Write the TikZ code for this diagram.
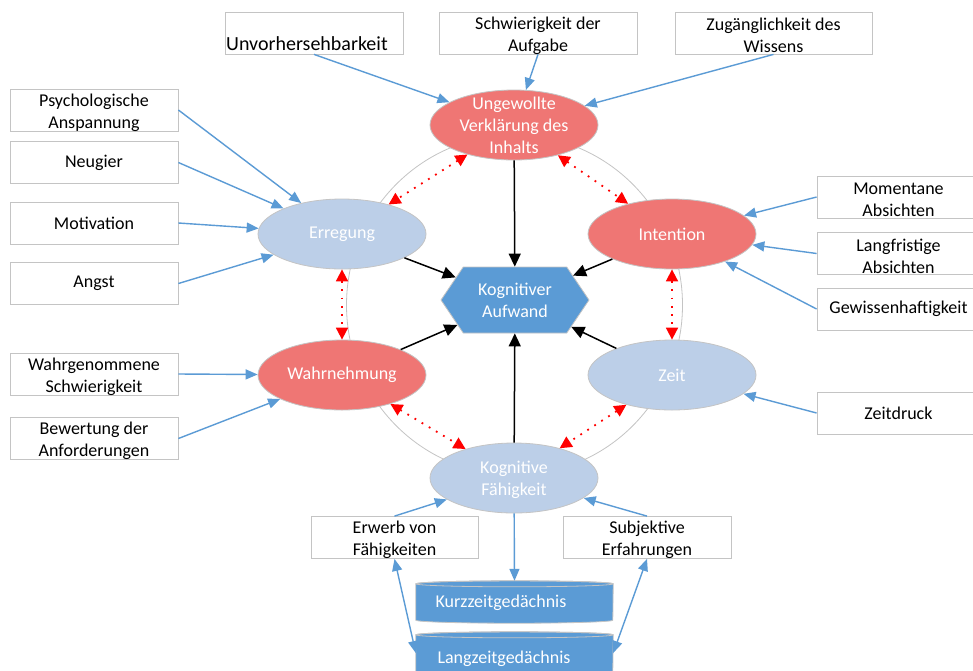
\documentclass[tikz,border=0pt]{standalone}
\usepackage{fontspec}
\setmainfont{Carlito}
\usetikzlibrary{arrows.meta,shapes.geometric,shapes.symbols}

\definecolor{salmon}{HTML}{EF7674}
\definecolor{paleblue}{HTML}{BCCFE8}
\definecolor{midblue}{HTML}{5B9BD5}
\definecolor{rimgray}{HTML}{C4C4C4}

\begin{document}
\begin{tikzpicture}[x=1pt,y=-1pt,
  every node/.style={font=\fontsize{18}{22}\selectfont},
  factor/.style={ellipse, draw=rimgray, line width=0.8pt, minimum width=168, minimum height=70, inner sep=0},
  hot/.style={factor, fill=salmon},
  cool/.style={factor, fill=paleblue},
  elltext/.style={text=white, align=center, inner sep=0},
  infobox/.style={rectangle, draw=rimgray, line width=0.8pt, fill=white, minimum height=42, inner sep=0, align=center},
  pairtext/.style={align=center, inner sep=0, yshift=-2.5pt},
  cylbox/.style={rectangle, inner sep=0, minimum width=197, minimum height=42},
  cylbody/.style={fill=midblue, draw=rimgray, line width=0.8pt},
  feed/.style={draw=midblue, line width=1.4pt, -{Triangle[length=12pt,width=10pt]}},
  link/.style={draw=midblue, line width=1.4pt, {Triangle[length=12pt,width=10pt]}-{Triangle[length=12pt,width=10pt]}},
  effect/.style={draw=black, line width=1.5pt, -{Triangle[length=13pt,width=12pt]}},
  mutual/.style={draw=red, line width=1.8pt, dash pattern=on 1.8pt off 6.5pt, {Triangle[length=12pt,width=12pt]}-{Triangle[length=12pt,width=12pt]}},
]
\clip (0,0) rectangle (973,670);
\fill[white] (0,0) rectangle (973,670);

% faint ring linking the six factors
\draw[rimgray, line width=0.8pt] (514.5,305) ellipse [x radius=168, y radius=170];

% six factors around the centre
\node[hot, label={[elltext]center:{Ungewollte\\Verklärung des\\Inhalts}}] (inhalt) at (514,125) {};
\node[cool, label={[elltext]center:Erregung}] (erreg) at (342,234) {};
\node[hot, label={[elltext]center:Intention}] (inten) at (672,234) {};
\node[hot, label={[elltext]center:Wahrnehmung}] (wahr) at (342,375) {};
\node[cool, label={[elltext]center:Zeit}] (zeit) at (672,375) {};
\node[cool, label={[elltext, yshift=-1.5pt]center:{Kognitive\\Fähigkeit}}] (kog) at (514,478) {};

% centre hexagon
\node[signal, signal to=east and west, signal pointer angle=112, fill=midblue, draw=rimgray,
      line width=0.8pt, minimum width=148, minimum height=66, inner sep=0, text=white, align=center]
  (auf) at (515,300) {Kognitiver\\Aufwand};

% input boxes, top row
\node[infobox, minimum width=178] (unv) at (314,33) {};
\node[anchor=base west, inner sep=0, font=\fontsize{20}{24}\selectfont] (unvtext) at (226,50) {Unvorhersehbarkeit};
\node[infobox, minimum width=198, label={[pairtext]center:{Schwierigkeit der\\Aufgabe}}] (aufg) at (538,33) {};
\node[infobox, minimum width=197, label={[pairtext]center:{Zugänglichkeit des\\Wissens}}] (wiss) at (773.5,33) {};

% input boxes, left column
\node[infobox, minimum width=168, label={[pairtext]center:{Psychologische\\Anspannung}}] (psych) at (94,110) {};
\node[infobox, minimum width=168] (neug) at (94,162.5) {Neugier};
\node[infobox, minimum width=168] (motiv) at (94,223) {Motivation};
\node[infobox, minimum width=168] (angst) at (94,283.5) {Angst};
\node[infobox, minimum width=168, label={[pairtext]center:{Wahrgenommene\\Schwierigkeit}}] (wschw) at (94,374) {};
\node[infobox, minimum width=168, label={[pairtext]center:{Bewertung der\\Anforderungen}}] (bewert) at (94,438.5) {};

% input boxes, right column
\node[infobox, minimum width=163, label={[pairtext]center:{Momentane\\Absichten}}] (moment) at (898.5,197) {};
\node[infobox, minimum width=163, label={[pairtext]center:{Langfristige\\Absichten}}] (langfr) at (898.5,253.5) {};
\node[infobox, minimum width=163] (gewiss) at (898.5,309) {Gewissenhaftigkeit};
\node[infobox, minimum width=163] (zdruck) at (898.5,413) {Zeitdruck};

% input boxes, bottom row
\node[infobox, minimum width=167, label={[pairtext]center:{Erwerb von\\Fähigkeiten}}] (erwerb) at (394.5,537.5) {};
\node[infobox, minimum width=168, label={[pairtext]center:{Subjektive\\Erfahrungen}}] (subj) at (647,537.5) {};

% memory stores
\node[cylbox] (kurz) at (514.5,602) {};
\filldraw[cylbody] ([yshift=-3pt]kurz.north west) -- ([yshift=3pt]kurz.south west)
  arc[start angle=180, end angle=360, x radius=98.5pt, y radius=3pt]
  -- ([yshift=-3pt]kurz.north east)
  arc[start angle=0, end angle=180, x radius=98.5pt, y radius=3pt] -- cycle;
\draw[rimgray, line width=0.8pt] ([yshift=-3pt]kurz.north) ellipse [x radius=98.5pt, y radius=3pt];
\node[text=white] (kurztext) at (501,603) {Kurzzeitgedächnis};

\node[cylbox] (langz) at (514.5,653) {};
\filldraw[cylbody] ([yshift=-3pt]langz.north west) -- ([yshift=3pt]langz.south west)
  arc[start angle=180, end angle=360, x radius=98.5pt, y radius=3pt]
  -- ([yshift=-3pt]langz.north east)
  arc[start angle=0, end angle=180, x radius=98.5pt, y radius=3pt] -- cycle;
\draw[rimgray, line width=0.8pt] ([yshift=-3pt]langz.north) ellipse [x radius=98.5pt, y radius=3pt];
\node[text=white] (langztext) at (504,659) {Langzeitgedächnis};

% effects on cognitive effort
\draw[effect] (inhalt) -- (auf);
\draw[effect] (erreg) -- (auf);
\draw[effect] (inten) -- (auf);
\draw[effect] (wahr) -- (auf);
\draw[effect] (zeit) -- (auf);
\draw[effect] (kog) -- (auf);

% mutual influences between neighbouring factors
\draw[mutual] (inhalt) -- (erreg);
\draw[mutual] (inhalt) -- (inten);
\draw[mutual] (erreg) -- (wahr);
\draw[mutual] (inten) -- (zeit);
\draw[mutual] (wahr) -- (kog);
\draw[mutual] (zeit) -- (kog);

% inputs
\draw[feed] (unv.south) -- (inhalt);
\draw[feed] (aufg.south) -- (inhalt);
\draw[feed] (wiss.south) -- (inhalt);
\draw[feed] (psych.east) -- (erreg);
\draw[feed] (neug.east) -- (erreg);
\draw[feed] (motiv.east) -- (erreg);
\draw[feed] (angst.east) -- (erreg);
\draw[feed] (wschw.east) -- (wahr);
\draw[feed] (bewert.east) -- (wahr);
\draw[feed] (moment.west) -- (inten);
\draw[feed] (langfr.west) -- (inten);
\draw[feed] (gewiss.west) -- (inten);
\draw[feed] (zdruck.west) -- (zeit);
\draw[feed] (erwerb.north) -- (kog);
\draw[feed] (subj.north) -- (kog);
\draw[feed] (kog) -- (kurz.north);
\draw[link] (erwerb.south) -- (langz.west);
\draw[link] (subj.south) -- (langz.east);
\end{tikzpicture}
\end{document}
